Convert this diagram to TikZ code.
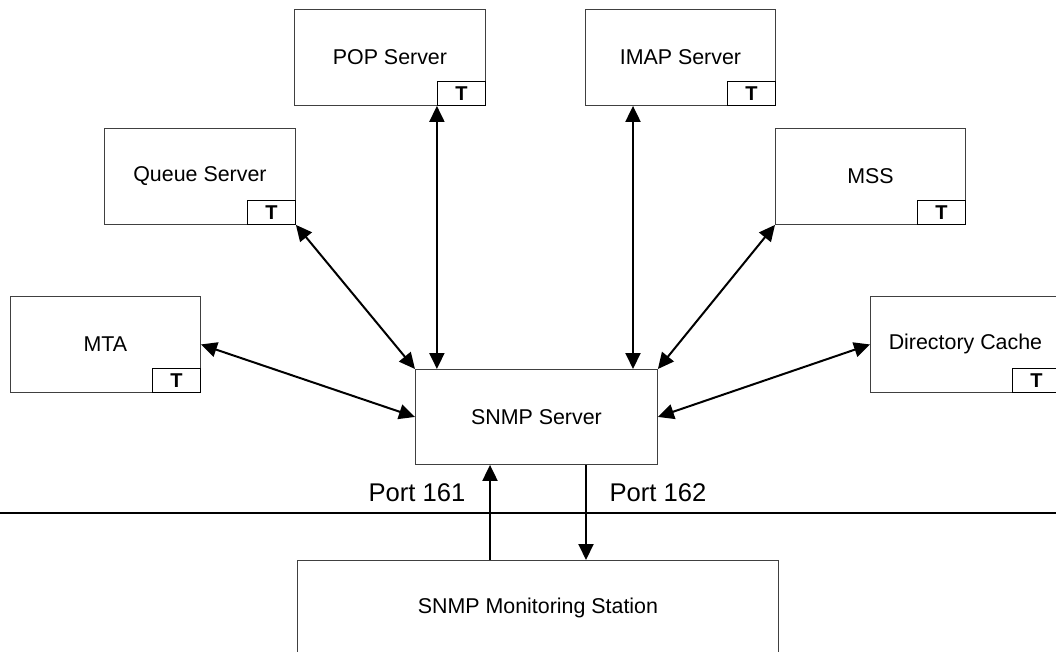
\documentclass[tikz,border=0pt]{standalone}
\usepackage{fontspec}
\setmainfont{Liberation Sans}
\usetikzlibrary{arrows.meta,calc}
\begin{document}
\begin{tikzpicture}[x=1pt,y=-1pt,
  srv/.style={draw=black!75, line width=0.9pt, rectangle, inner sep=0pt,
    minimum width=191pt, minimum height=96pt, anchor=north west,
    font=\fontsize{21.4}{24}\selectfont},
  tbox/.style={draw=black, line width=1pt, rectangle, inner sep=0pt,
    minimum width=48pt, minimum height=24pt, anchor=south east,
    font=\fontsize{20}{22}\selectfont\bfseries},
  conn/.style={line width=2pt, black, {Triangle[length=16pt,width=15pt]}-{Triangle[length=16pt,width=15pt]}},
  oneway/.style={line width=2pt, black, -{Triangle[length=16pt,width=15pt]}},
  port/.style={font=\fontsize{25.6}{28}\selectfont, inner sep=0pt}]
\useasboundingbox (0,0) rectangle (1056,652);
\clip (0,0) rectangle (1056,652);

\node[srv] (pop) at (294,9) {POP Server};
\node[srv] (queue) at (104,128) {Queue Server};
\node[srv, minimum width=190pt] (mta) at (10,296) {MTA};
\node[srv, minimum width=190pt] (imap) at (585,9) {IMAP Server};
\node[srv, minimum width=190pt] (mss) at (775,128) {MSS};
\node[srv, minimum width=190pt] (dir) at (870,296) {Directory Cache};
\node[srv, minimum width=242pt, minimum height=95pt] (snmp) at (415,369) {SNMP Server};
\node[srv, minimum width=481pt, minimum height=96pt] (mon) at (297,560) {SNMP Monitoring Station};

\node[tbox] (tpop) at (pop.south east) {T};
\node[tbox] (tqueue) at (queue.south east) {T};
\node[tbox] (tmta) at (mta.south east) {T};
\node[tbox] (timap) at (imap.south east) {T};
\node[tbox] (tmss) at (mss.south east) {T};
\node[tbox] (tdir) at (dir.south east) {T};

\coordinate (imapx) at ($(imap.south west)+(48,0)$);
\draw[conn] (tpop.south west) -- (tpop.south west |- snmp.north);
\draw[conn] (imapx) -- (imapx |- snmp.north);
\draw[conn] (queue.south east) -- (snmp.north west);
\draw[conn] (mss.south west) -- (snmp.north east);
\draw[conn] (mta.east) -- (snmp.west);
\draw[conn] (snmp.east) -- (dir.west);

\coordinate (lineL) at (0,513);
\coordinate (lineR) at (1056,513);
\draw[line width=2pt, black] (lineL) -- (lineR);

\coordinate (p161) at ($(mon.north west)+(193,0)$);
\coordinate (p162) at ($(mon.north west)+(289,0)$);
\draw[oneway] (p161) -- (p161 |- snmp.south);
\draw[oneway] (p162 |- snmp.south) -- (p162);

\node[port] (l161) at (417,493) {Port 161};
\node[port] (l162) at (658,493) {Port 162};
\end{tikzpicture}
\end{document}
